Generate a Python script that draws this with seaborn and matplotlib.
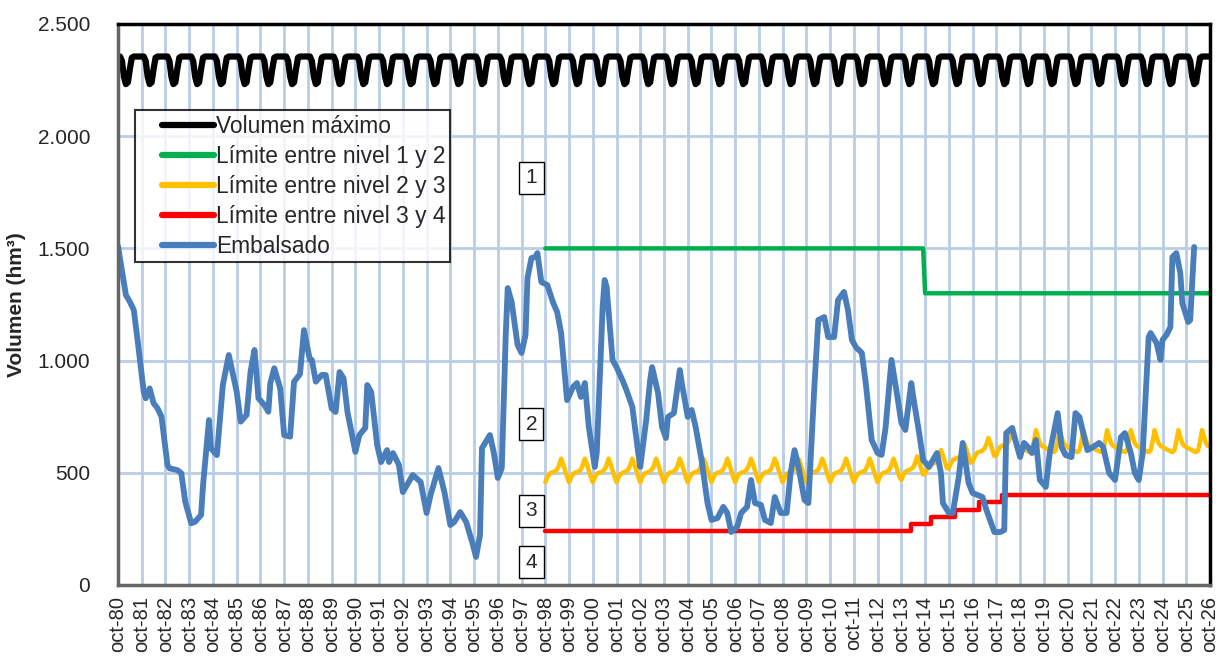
import numpy as np
import pandas as pd
import seaborn as sns
import matplotlib.pyplot as plt
from matplotlib.lines import Line2D
from matplotlib.legend_handler import HandlerLine2D

# eje x en meses contados desde octubre de 1980
anios = list(range(1980, 2027))
etiquetas = [f"oct-{a % 100:02d}" for a in anios]
y_ticks = [0, 500, 1000, 1500, 2000, 2500]

# volumen maximo: mismo ciclo cada año hidrologico (oct..sep)
vmax_patron = [2355, 2355, 2335, 2265, 2232, 2240, 2300, 2350, 2355, 2355, 2355, 2355]

# limite nivel 1 y 2
n12_mes = [216, 407, 408, 552]
n12_valor = [1500, 1500, 1300, 1300]

# limite nivel 2 y 3 (ciclo anual, oct..sep)
n23_patron_a = [458, 480, 495, 500, 503, 507, 515, 535, 563, 540, 510, 482]
n23_subida = [10, 38, 62, 92, 121]          # años 2013/14 .. 2017/18
n23_patron_b = [615, 610, 605, 600, 596, 592, 600, 640, 690, 660, 632, 620]

# limite nivel 3 y 4 (escalones)
n34_mes = [216, 401, 411, 423, 435, 447, 552]
n34_valor = [240, 272, 304, 336, 368, 400, 400]

# embalsado
emb_mes = [0, 4, 6, 8, 10, 13, 14, 16, 18, 20, 22, 25, 26, 30, 32, 34, 37, 39, 42, 43,
           46, 47, 50, 53, 56, 60, 62, 65, 67, 69, 71, 74, 76, 77, 79, 82, 84, 87, 89, 92,
           94, 97, 98, 100, 103, 105, 108, 110, 112, 114, 116, 120, 122, 125, 126, 128, 131, 133, 136, 137,
           139, 142, 144, 149, 153, 156, 158, 162, 165, 168, 170, 173, 176, 179, 181, 183, 184, 188, 190, 192,
           194, 196, 197, 199, 202, 204, 206, 207, 209, 211, 212, 214, 217, 220, 222, 224, 227, 230, 232, 234,
           236, 238, 241, 242, 245, 246, 247, 250, 252, 255, 257, 260, 263, 264, 267, 269, 270, 273, 275, 277,
           278, 281, 284, 285, 288, 290, 292, 295, 298, 300, 303, 306, 308, 310, 313, 315, 318, 320, 322, 325,
           327, 330, 332, 335, 338, 340, 342, 344, 347, 349, 352, 354, 357, 359, 362, 364, 367, 369, 371, 373,
           376, 378, 381, 384, 386, 388, 391, 394, 396, 398, 401, 402, 405, 407, 410, 411, 414, 416, 417, 420,
           422, 425, 427, 430, 432, 437, 439, 443, 446, 448, 449, 452, 454, 456, 458, 460, 462, 464, 466, 469,
           471, 473, 475, 477, 479, 482, 484, 486, 490, 492, 496, 498, 501, 504, 507, 509, 512, 514, 516, 518,
           521, 522, 525, 527, 528, 530, 532, 533, 535, 537, 538, 541, 542, 544]
emb_valor = [1510, 1292, 1262, 1225, 1084, 861, 832, 876, 810, 787, 750, 535, 520, 512, 498, 371, 275, 282, 312, 446,
             735, 609, 579, 891, 1025, 861, 728, 758, 951, 1047, 832, 802, 772, 899, 966, 876, 668, 661, 906, 940,
             1136, 1003, 1003, 906, 936, 936, 787, 771, 949, 922, 771, 593, 668, 700, 891, 860, 624, 548, 601, 548,
             588, 535, 414, 490, 459, 321, 401, 521, 414, 267, 281, 325, 281, 192, 125, 223, 610, 668, 588, 477,
             521, 1114, 1323, 1261, 1069, 1034, 1114, 1368, 1457, 1462, 1479, 1350, 1337, 1257, 1216, 1123, 824, 882, 900, 838,
             900, 704, 526, 588, 1239, 1359, 1328, 1003, 971, 913, 869, 793, 588, 526, 735, 913, 971, 855, 704, 655,
             749, 766, 958, 900, 749, 780, 704, 557, 365, 290, 298, 348, 321, 236, 259, 321, 348, 468, 365, 357,
             290, 276, 392, 321, 321, 499, 601, 526, 379, 365, 882, 1181, 1194, 1105, 1105, 1270, 1306, 1225, 1092, 1060,
             1034, 900, 646, 588, 580, 700, 1003, 838, 722, 691, 900, 838, 677, 557, 526, 543, 588, 499, 365, 321,
             321, 481, 633, 454, 410, 392, 334, 236, 236, 245, 677, 700, 633, 570, 633, 615, 588, 646, 468, 437,
             588, 677, 766, 615, 579, 570, 766, 749, 601, 610, 633, 615, 499, 468, 659, 677, 588, 499, 468, 588,
             1105, 1123, 1078, 1003, 1092, 1114, 1150, 1462, 1479, 1390, 1257, 1172, 1181, 1506]

# series mensuales a partir de los ciclos leidos
vmax = vmax_patron * (len(anios) - 1) + [vmax_patron[0]]
vmax_df = pd.DataFrame({"mes": np.arange(len(vmax)), "valor": vmax})

n23 = n23_patron_a * 15
for s in n23_subida:
    n23 += [v + s for v in n23_patron_a]
n23 += n23_patron_b * 8 + [n23_patron_b[0]]
n23_df = pd.DataFrame({"mes": np.arange(216, 216 + len(n23)), "valor": n23})

n12_df = pd.DataFrame({"mes": n12_mes, "valor": n12_valor})
n34_df = pd.DataFrame({"mes": n34_mes, "valor": n34_valor})
emb_df = pd.DataFrame({"mes": emb_mes, "valor": emb_valor})


class LineaCorrida(HandlerLine2D):
    # deja hueco a la izquierda de la linea de la leyenda
    def get_xdata(self, legend, xdescent, ydescent, width, height, fontsize):
        x = np.array([-xdescent + width * 0.3, -xdescent + width])
        return x, x


sns.set_style("white")
plt.rcParams["font.family"] = ["Liberation Sans", "DejaVu Sans"]

fig = plt.figure(figsize=(12.19, 6.57), dpi=100)
ax = fig.add_axes([0.0968, 0.1096, 0.8958, 0.8539])

# rejilla
for m in range(0, 553, 12):
    ax.axvline(m, color="#b9cde5", lw=2, zorder=0)
for v in y_ticks[1:-1]:
    ax.axhline(v, color="#b9cde5", lw=2, zorder=0)

colores = ["black", "#00b050", "#ffc000", "#ff0000", "#4a7ebb"]
nombres = ["Volumen máximo", "Límite entre nivel 1 y 2", "Límite entre nivel 2 y 3",
           "Límite entre nivel 3 y 4", "Embalsado"]
anchos = [4.5, 3.2, 3.2, 3.2, 4.2]

sns.lineplot(data=vmax_df, x="mes", y="valor", color=colores[0], lw=anchos[0], ax=ax,
             legend=False, solid_joinstyle="round")
sns.lineplot(data=n12_df, x="mes", y="valor", color=colores[1], lw=anchos[1], ax=ax, legend=False)
sns.lineplot(data=n23_df, x="mes", y="valor", color=colores[2], lw=anchos[2], ax=ax,
             legend=False, solid_joinstyle="round")
sns.lineplot(data=n34_df, x="mes", y="valor", color=colores[3], lw=anchos[3], ax=ax,
             legend=False, drawstyle="steps-post")
sns.lineplot(data=emb_df, x="mes", y="valor", color=colores[4], lw=anchos[4], ax=ax,
             legend=False, solid_joinstyle="round", solid_capstyle="round")

# cajas de niveles
cajas = [("1", 1814), ("2", 717), ("3", 330), ("4", 102)]
for txt, v in cajas:
    ax.text(209, v, txt, ha="center", va="center", fontsize=15,
            bbox=dict(boxstyle="square,pad=0.3", fc="white", ec="black", lw=1))

ax.set_xlim(0, 552)
ax.set_ylim(0, 2500)
ax.set_xticks(range(0, 553, 12))
ax.set_xticklabels(etiquetas, rotation=90, fontsize=14.5)
ax.set_yticks(y_ticks)
ax.set_yticklabels([f"{v:,}".replace(",", ".") for v in y_ticks], fontsize=15)
ax.tick_params(axis="both", direction="out", length=5, color="#808080", width=1.5, pad=3)
ax.tick_params(axis="y", pad=15)
ax.set_xlabel("")
ax.set_ylabel("Volumen (hm³)", fontsize=15, fontweight="bold", labelpad=8)

for lado in ["top", "right"]:
    ax.spines[lado].set_color("black")
    ax.spines[lado].set_linewidth(2.5)
for lado in ["left", "bottom"]:
    ax.spines[lado].set_color("#666666")
    ax.spines[lado].set_linewidth(2.5)

handles = [Line2D([0], [0], color=c, lw=4.5, solid_capstyle="round") for c in colores]
leg = ax.legend(handles, nombres, loc="upper left", bbox_to_anchor=(0.0156, 0.8467),
                fontsize=16.4, handlelength=3.25, handletextpad=0.12, borderpad=0.2,
                labelspacing=0.31, frameon=True, fancybox=False, borderaxespad=0,
                handler_map={Line2D: LineaCorrida()})
leg.get_frame().set_edgecolor("black")
leg.get_frame().set_linewidth(1.5)

fig.savefig("out.png", dpi=100)
